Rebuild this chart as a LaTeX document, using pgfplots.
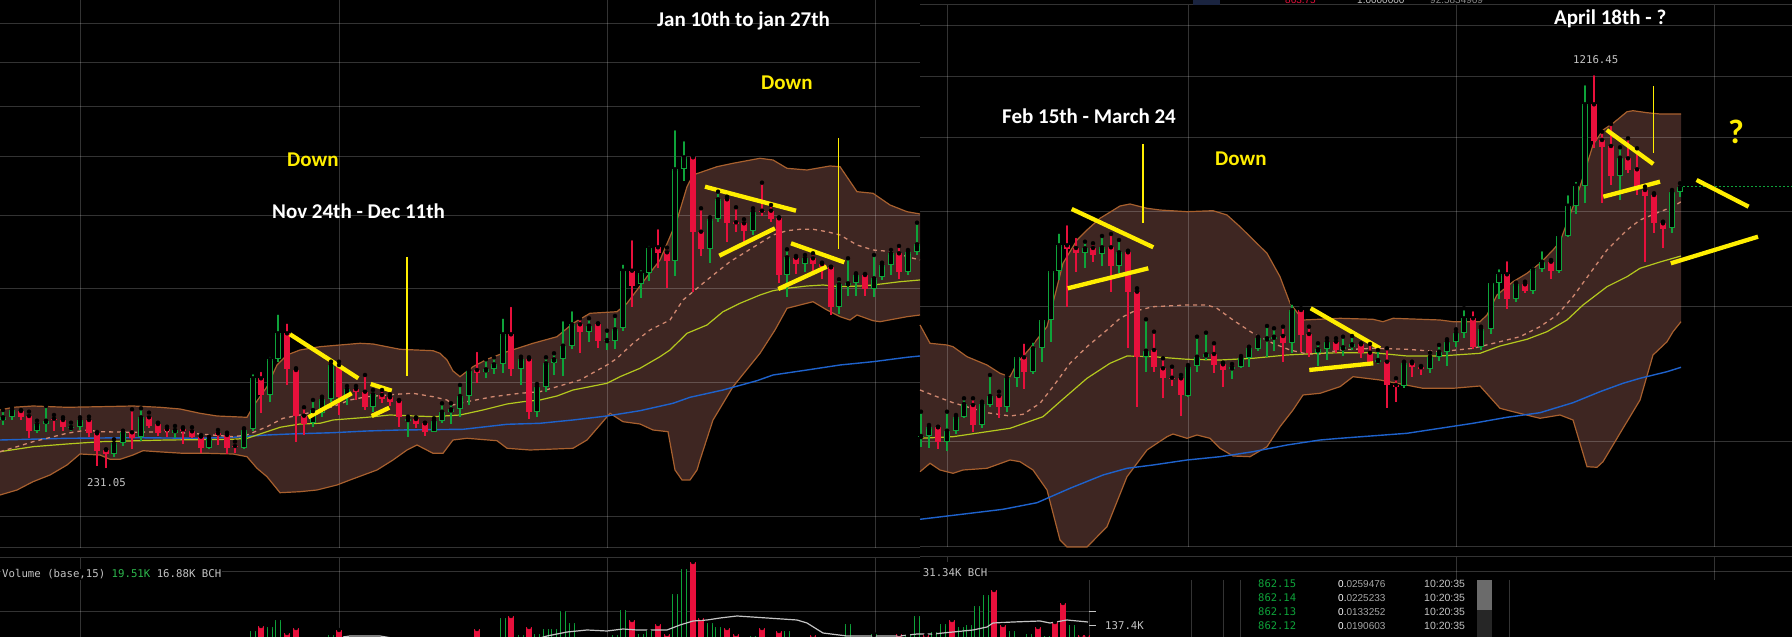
\documentclass[border=0pt]{standalone}
\usepackage{pgfplots}
\pgfplotsset{compat=1.18}
\usepackage{pgfplotstable}
\usepgfplotslibrary{fillbetween}
\usepackage{fontspec}
\setmainfont{Carlito}
\newfontfamily\monof{DejaVu Sans Mono}
\newfontfamily\obf{Liberation Sans}

\definecolor{cred}{HTML}{E8103C}
\definecolor{cgreen}{HTML}{0EA33A}
\definecolor{bbfill}{HTML}{3E2622}
\definecolor{bbedge}{HTML}{A8602E}
\definecolor{midc}{HTML}{D08870}
\definecolor{maY}{HTML}{B4C81E}
\definecolor{maB}{HTML}{1E62CC}
\definecolor{annY}{HTML}{FFEE00}
\definecolor{txtg}{HTML}{C4C4C4}
\definecolor{volg}{HTML}{2DB84D}
\definecolor{navy}{HTML}{1A2440}

% ---------- candles: x, wick high, wick low, body top, body bottom (pixel rows from top)
\pgfplotstableread{
x hi lo bt bb
3 410 425 417.3 420
12 407.3 420 410 417.3
37 420.7 432.7 424.3 430.7
46 406 431.7 420.7 424.3
71 422.7 430.7 427 428
80 417.3 430 420.3 427.3
114 439.3 456.7 443.3 454.3
123 430.7 445.7 432.3 443.3
141 408.3 440.7 417.3 437.3
175 426 438.3 430 433.3
209 436.7 449 439.3 447.7
244 428.3 449 430 447.7
253 372.3 431 378.3 429.3
270 355 401.7 359.3 395
278 312.7 361.7 333.3 359.3
313 400 427.3 410 423.3
322 396.7 417.3 399.3 413.3
331 361.7 401.7 365 399.3
347 386 405 389.3 396
373 390 411.7 394.3 406.7
408 416.7 436.7 419 421
434 418.3 432.3 420.7 431.7
442 403.3 422.7 411.7 420.7
451 403.3 424 409.3 411.7
460 385 416.7 396 409.3
469 367.3 405 370.7 396
486 359.3 378.3 369.3 372.3
494 357.3 374 364.3 369.3
503 316.7 372.7 334.3 364.3
521 356.7 385 359.3 369.3
537 384 417.3 386.7 411.7
546 357.3 391.7 363.3 386.7
554 353.3 375 359.3 363.3
563 319.3 376 345.7 359.3
572 309.3 349.3 324.3 345.7
589 318.3 341.7 325.7 331.7
607 330.7 350 340 340.7
615 316 349.3 329.3 340.7
623 262.7 330.7 270.7 328.3
641 268.3 298.3 273.3 284.3
649 244 280.7 248.3 273.3
675 128.3 276 169.3 260.7
684 139.3 180.7 157.3 169.3
710 217.3 263.3 219.3 249.3
718 191.7 221.7 199.3 219.3
753 208.3 235 211.7 230.7
787 249.3 296.7 257.3 275
805 255 271.7 258.3 264.3
839 279.3 314 284.3 307.3
848 258.3 296 283.3 285
856 273.3 296 275 283.3
874 255 296.7 278.3 289.3
882 262.7 280 265 277.3
891 250 275 253.3 265
908 250 275 252.3 271.7
917 222.7 255 244.3 252.3
921 411.7 446.7 436 437.3
929 425 448.3 427.3 436
947 411.7 450.7 430.7 442.3
956 415 434 417.3 430.7
964 398.3 418.3 404 417.3
982 401.7 428.3 404 425
990 375 406.7 396 405
1007 375 411.7 378.3 406.7
1017 354 386.7 357.3 378.3
1033 340.7 374 348.3 371.7
1042 317.3 361.7 320 348.3
1051 269.3 341.7 271.3 320
1059 231.7 280 245.3 271.3
1085 241.7 268.3 248.3 253.3
1102 236 266 247.3 254.3
1119 240 272.7 252.3 265.7
1146 319.3 371.7 350.7 357.3
1188 365 396.7 367.3 395.7
1197 336.7 371.7 356.7 366
1206 332.7 360 354.3 356.7
1232 364 379.3 367.3 369.3
1241 356 368 358.3 367.3
1249 346.7 366.7 348.3 357.7
1258 336.7 350.7 338.3 349.3
1267 326 356.7 338.3 339.3
1274 328.3 350.7 336.7 338.7
1292 302.7 352.7 310 343.3
1318 343.3 366 349.3 352.7
1327 338.3 360 341.7 349.3
1343 336.7 356 347.3 349.3
1352 336 350 344.3 347.3
1378 350 364 360 361.7
1404 361.7 388.3 363.3 386
1430 352.7 372.7 356.7 369.3
1439 345 360.7 351.7 356.7
1447 339.3 366 341.7 351.7
1456 329.3 346.7 332.7 341.7
1464 308.3 338.3 318.3 332.7
1481 326.7 350 329.3 347.3
1491 280 334 282.7 329.3
1499 267.3 299.3 274.3 282.7
1516 282.7 301.7 284.3 299.3
1533 265 294 269.3 290.7
1542 249.3 271.7 261.7 269.3
1559 232.7 272.7 235.7 270.7
1568 193.3 236.7 205.7 235.7
1576 180 214 185.7 205.7
1585 83.3 203.3 104.3 185.7
1620 147.3 200 157.7 175.7
1672 190 232.7 191.7 228.3
1680 183.3 196.7 187.3 192.3
}\CG

\pgfplotstableread{
x hi lo bt bb
21 410 420 411 417.3
29 411.7 438.3 416 430.7
54 415 430.7 418.7 420
63 417.3 431 420 427.3
89 416.7 437.3 420 433.3
97 432 466 433.3 450.7
106 449.3 468.3 450 454.3
132 409.3 449 432.3 437.7
149 412.7 428.3 417.3 426
158 422.7 436 424 433.3
167 426.7 436.7 429.3 430.7
183 427.3 444 429.3 431.3
192 427.3 437.7 431.3 436.7
201 435 452.7 436.7 447.7
218 430 445 433.3 435
227 432.7 454.3 435 447.7
235 441.7 453.3 446 447
261 370 413.3 378.3 395
287 321.7 385 333.3 369.3
296 368.3 441.7 370 416
304 407.3 435 415.7 424
339 361.7 415 365 396.7
356 386 400 389 391.7
365 375 410 391.7 407.3
382 390 402.7 395 399.3
390 394.3 406 397.3 401.7
399 400 427.3 401 416.7
416 417.3 428.3 419 424
425 422.7 436 423.3 431.7
477 350 382.7 370 372.7
511 305 376 334.3 369.3
529 357.3 419.3 359.3 411.7
580 318.3 352.7 324.3 331.7
598 323.3 348.3 324 340.7
632 238.3 306.7 270.7 285.7
658 227.3 268.3 247.3 252.7
667 247.7 288.3 252.3 260.7
693 155 291.7 157.3 231.7
701 208.3 256 231.7 249.3
727 196.7 241.7 199.3 222.7
736 207.3 231.7 222.3 223.7
744 219.3 241.7 223.3 230.7
762 182.7 216 210.7 211.3
771 205 221.7 210.7 218.7
779 217.3 283.3 218.3 275
796 256 274 257.7 264.3
813 253.3 271.7 258.3 264.3
822 262.7 279.3 264 266.7
831 266.7 315 267.3 307.3
865 274 296 275 289.3
899 246 279.3 253.3 271.7
938 426.7 449.3 427.3 441.7
973 398.3 431.7 405 425
999 391.7 418.3 396 406.7
1024 341.7 389.3 357.3 371.7
1067 223.3 306.7 245.3 248.7
1076 236 271.7 248 253.3
1093 243.3 261.7 248 255
1111 234 291.7 247.3 266
1128 250.7 348.3 252.3 291.7
1137 288.3 406.7 291.7 357.3
1154 331.7 371.7 350 367.3
1163 358.3 398.3 368.3 378.3
1172 366.7 386 377.7 378.7
1181 375 416 378.3 395
1214 343.3 372.7 354 365
1223 362.7 386.7 364.3 370
1283 326.7 361.7 336 343.3
1301 308.3 351.7 310 335
1309 326.7 356.7 334 352.7
1336 338.3 352.7 341.7 350
1361 343.3 358.3 344.3 352.7
1370 344 364 352.7 361.7
1387 348.3 408.3 361.7 385
1396 378.3 401.7 385 386.7
1412 361.7 376.7 363.3 367.3
1421 366 375 367.3 369.3
1473 309.3 349.3 318.3 347.3
1507 259.3 309.3 274.3 299.3
1525 281.7 292.7 284.3 290.7
1551 260 279.3 261.7 270.7
1594 73.3 148.3 104.3 140.7
1602 131.7 203.3 140 146.7
1611 124 185 146 175.7
1628 138.3 172.7 158.3 170
1637 148.3 195 169.3 186.7
1645 186.7 261.7 190 195.7
1654 193.3 233.3 195 223.3
1663 221.7 248.3 223.3 229
}\CR

% ---------- volume bars: x, top row
\pgfplotstableread{
x top
253 631
270 627
278 620
331 635
503 618
521 635
537 634
546 629
554 629
563 611
572 623
615 635
623 610
641 634
649 631
675 594
684 569
710 623
718 627
753 636
787 631
848 624
874 634
908 635
917 616
934 632
943 624
961 627
969 625
977 606
986 595
1012 631
1029 634
1047 636
1072 625
}\VG
\pgfplotstableread{
x top
261 626
287 633
296 628
339 630
477 629
511 616
529 627
632 620
658 624
667 634
693 562
701 618
727 628
736 634
762 628
779 631
813 635
899 634
926 635
952 620
994 590
1003 625
1038 627
1055 622
1063 603
1081 635
1087 635
}\VR

% ---------- Bollinger bands and averages
\pgfplotstableread{
x y
0 410
13 407.3
33 406
67 407.3
100 406.7
133 406
160 407.3
180 409
200 413.3
217 416
247 417.3
253 406.7
267 386.7
277 365
287 355
300 350
320 346.7
340 345
360 343.3
373 344
400 349.3
433 350.7
440 353.3
447 360
453 371
460 376.7
473 366.7
487 359.3
507 351.7
533 343.3
557 336.7
573 323.3
590 313.3
617 311.7
627 303.3
647 276.7
660 260
670 236.7
677 220
687 186.7
693 175
717 166.7
733 163.3
760 158.3
773 160
787 168.3
807 170
830 166
840 166.7
857 191.7
873 193.3
890 205
907 211.7
920 214
}\LU
\pgfplotstableread{
x y
0 495
17 490
33 481.7
50 475
67 465
80 454
100 455
110 459.3
120 459.3
133 455
143 450.7
157 451.7
183 453.3
207 453.3
233 454
247 456.7
257 468.3
267 476.7
280 492.7
300 491.7
317 490
337 485
350 480
377 470
393 460
407 450
417 445
433 453.3
443 453.3
453 440
467 438.3
497 440.7
507 448.3
530 450
573 448.3
587 440
600 425
610 413.3
623 421.7
640 424
653 430
668 431.7
675 470
682 480
690 480
697 470
700 460
713 420
733 386.7
760 353.3
775 330
787 308.3
800 305
813 301.7
827 310
840 316.7
850 320
857 315
873 320.7
880 321.7
907 316.7
920 315
}\LL
\pgfplotstableread{
x y
0 451.7
17 446.7
33 441.7
67 433.3
87 430
100 431.7
133 432.3
167 431.7
200 434
233 436.7
247 435
267 426.7
283 418.3
300 415
333 406.7
350 400
367 396.7
400 394
413 393.3
433 396.7
447 400
453 405
467 401.7
493 396.7
520 393.3
540 391.7
557 386.7
580 380
607 365
617 358.3
633 343.3
650 330
670 320
683 300
693 291.7
707 280
730 261.7
757 245
773 235
787 230.7
800 229.3
813 229.3
827 231.7
840 235
857 245
873 250
893 251.7
907 256.7
920 260
}\LM
\pgfplotstableread{
x y
0 451.7
33 446.7
67 444
100 441.7
167 440
233 439.3
247 438.3
267 431.7
280 427.3
300 424
320 423.3
333 420
367 417.3
390 415
433 416.7
460 415
483 410
507 404
523 401.7
540 400
557 396
573 390
607 383.3
620 376.7
640 368.3
660 356.7
670 350
687 333.3
707 325
723 311.7
740 303.3
760 295
773 290.7
787 288.3
807 286
823 285
840 286.7
860 286
873 285
900 281.7
920 280
}\LY
\pgfplotstableread{
x y
0 440
67 438.3
133 437.7
200 438.3
233 437.3
267 435
290 434
333 432.7
367 431
400 430
463 429.3
507 424.3
540 423.3
573 420
607 416
640 410.7
673 403.3
690 397.3
723 390
757 380.7
773 375
807 370
840 365
873 361.7
907 357.3
920 356
}\LB
\pgfplotstableread{
x y
920 325
930 343.3
947 345
953 346.7
967 356.7
987 365
1000 373.3
1010 376.7
1017 363.3
1030 348.3
1047 326.7
1063 263.3
1077 240
1087 230
1100 218.3
1120 206
1130 204
1147 208.3
1160 210
1187 211.7
1213 210.7
1227 215
1240 226.7
1267 253.3
1280 276.7
1290 303.3
1303 320
1340 318.3
1373 319.3
1383 321.7
1393 318.3
1440 320
1453 321.7
1480 321.7
1487 315
1497 295
1513 281.7
1527 273.3
1540 263.3
1553 250
1560 241.7
1573 206.7
1580 186.7
1593 145
1603 130
1613 123.3
1627 111.7
1633 110.7
1647 112.7
1660 114
1681 114
}\RU
\pgfplotstableread{
x y
920 471.7
930 463.3
940 470
953 473.3
963 470
987 468.3
1010 460
1020 461.7
1033 470
1047 490
1060 540
1067 547
1087 547
1107 526.7
1127 476.7
1147 450
1167 436.7
1173 434
1187 438.3
1197 435
1210 438.3
1220 448.3
1233 456
1250 456.7
1267 446.7
1280 426.7
1293 410
1303 395
1320 393.3
1340 386.7
1353 376.7
1380 380
1423 388.3
1453 388.3
1480 386
1500 408.3
1513 411.7
1540 418.3
1560 415
1573 420
1587 466.7
1597 467.3
1603 461.7
1620 433.3
1640 400
1653 355
1667 341.7
1673 331.7
1681 321.7
}\RL
\pgfplotstableread{
x y
920 390
937 396.7
953 402.7
987 412.7
1010 416
1023 414.3
1040 403.3
1053 386.7
1070 363.3
1087 346.7
1107 330
1120 318.3
1133 311.7
1153 306.7
1187 305
1207 305
1217 308.3
1233 320
1253 333.3
1273 343.3
1290 350
1307 354
1320 354
1340 350
1373 348.3
1407 349.3
1440 351.7
1473 348.3
1500 341.7
1520 336.7
1540 326.7
1557 315
1573 296.7
1590 273.3
1607 250
1627 230
1640 220
1660 211.7
1673 206.7
1681 201.7
}\RM
\pgfplotstableread{
x y
920 438.3
953 436.7
987 431.7
1010 428.3
1043 416.7
1060 401.7
1087 378.3
1110 363.3
1127 356
1153 356.7
1187 359.3
1220 360
1253 358.3
1287 355
1320 353.3
1340 352.7
1373 352.7
1407 356
1440 356
1480 353.3
1500 346
1527 339.3
1547 331.7
1567 320
1583 305
1607 286.7
1627 276.7
1640 268.3
1660 262
1673 258.3
1681 256
}\RY
\pgfplotstableread{
x y
920 519.3
970 513.3
1003 509.3
1037 502.7
1070 488.3
1103 475
1127 468.3
1153 465
1187 460
1220 456.7
1253 451.7
1287 445
1320 440
1340 438.3
1407 433.3
1440 428.3
1473 423.3
1507 417.3
1540 412.7
1573 402.7
1600 391.7
1623 383.3
1640 378.3
1667 371.7
1681 367.3
}\RB

\pgfplotsset{
  ebar/.style 2 args={only marks, mark=none, error bars/.cd, y dir=plus, y explicit,
     error mark=none, error bar style={line width=#2, draw=#1, solid}},
}
\tikzset{gridc/.style={draw=white, draw opacity=0.2, line width=1pt}}

\begin{document}
\begin{tikzpicture}
\begin{axis}[
  width=1792pt, height=637pt, scale only axis,
  xmin=0, xmax=1792, ymin=0, ymax=637, y dir=reverse,
  axis line style={draw=none}, ticks=none,
  axis background/.style={fill=black},
]
% band fills
\addplot[draw=none, name path=lu] table {\LU};
\addplot[draw=none, name path=ll] table {\LL};
\addplot[fill=bbfill, draw=none] fill between[of=lu and ll];
\addplot[draw=none, name path=ru] table {\RU};
\addplot[draw=none, name path=rl] table {\RL};
\addplot[fill=bbfill, draw=none] fill between[of=ru and rl];

% grid, left screenshot
\pgfplotsinvokeforeach{24,63,107,157,216,289,383,517,572,612}{
  \draw[gridc] (axis cs:0,#1) -- (axis cs:920,#1);}
\pgfplotsinvokeforeach{80,339,607,875}{
  \draw[gridc] (axis cs:#1,0) -- (axis cs:#1,548);
  \draw[gridc] (axis cs:#1,558) -- (axis cs:#1,637);}
\draw[gridc] (axis cs:0,548) -- (axis cs:920,548);
\draw[gridc] (axis cs:0,558) -- (axis cs:920,558);
% grid, right screenshot
\pgfplotsinvokeforeach{26,77,138,212,307,442}{
  \draw[gridc] (axis cs:920,#1) -- (axis cs:1792,#1);}
\pgfplotsinvokeforeach{947,1188,1456,1714}{
  \draw[gridc] (axis cs:#1,5) -- (axis cs:#1,547);}
\draw[gridc] (axis cs:920,5) -- (axis cs:1792,5);
\draw[gridc] (axis cs:920,547) -- (axis cs:1792,547);
\draw[gridc] (axis cs:920,557) -- (axis cs:1792,557);
\draw[gridc] (axis cs:985,572) -- (axis cs:1792,572);
\draw[gridc] (axis cs:920,612) -- (axis cs:1089,612);
\draw[gridc] (axis cs:1456,557) -- (axis cs:1456,580);
\draw[gridc] (axis cs:1714,557) -- (axis cs:1714,580);
\draw[gridc] (axis cs:947,557) -- (axis cs:947,562);
\draw[gridc] (axis cs:1089,580) -- (axis cs:1089,637);
\pgfplotsinvokeforeach{1191,1223,1240,1509}{
  \draw[gridc] (axis cs:#1,580) -- (axis cs:#1,637);}

% band edges and averages
\addplot[bbedge, line width=1.2pt] table {\LU};
\addplot[bbedge, line width=1.2pt] table {\LL};
\addplot[bbedge, line width=1.2pt] table {\RU};
\addplot[bbedge, line width=1.2pt] table {\RL};
\addplot[maB, line width=1.4pt] table {\LB};
\addplot[maB, line width=1.4pt] table {\RB};
\addplot[maY, line width=1.2pt] table {\LY};
\addplot[maY, line width=1.2pt] table {\RY};
\addplot[midc, line width=1.3pt, dash pattern=on 4pt off 4pt] table {\LM};
\addplot[midc, line width=1.3pt, dash pattern=on 4pt off 4pt] table {\RM};

% candles
\addplot[ebar={cgreen}{1.2pt}] table[x=x, y=hi, y error plus expr=\thisrow{lo}-\thisrow{hi}] {\CG};
\addplot[ebar={cred}{1.2pt}] table[x=x, y=hi, y error plus expr=\thisrow{lo}-\thisrow{hi}] {\CR};
\addplot[ebar={cgreen}{6.6pt}] table[x=x, y=bt, y error plus expr={max(\thisrow{bb}-\thisrow{bt},1.4)}] {\CG};
\addplot[ebar={black}{4.4pt}] table[x=x, y expr=\thisrow{bt}+1.1, y error plus expr={max(\thisrow{bb}-\thisrow{bt}-2.2,0)}] {\CG};
\addplot[ebar={cred}{6.6pt}] table[x=x, y=bt, y error plus expr={max(\thisrow{bb}-\thisrow{bt},1.4)}] {\CR};

% volume
\addplot[ebar={cgreen}{6.4pt}] table[x=x, y=top, y error plus expr=640-\thisrow{top}] {\VG};
\addplot[ebar={black}{4.2pt}] table[x=x, y expr=\thisrow{top}+1.1, y error plus expr=640-\thisrow{top}] {\VG};
\addplot[ebar={cred}{6.4pt}] table[x=x, y=top, y error plus expr=640-\thisrow{top}] {\VR};
\addplot[txtg, line width=1.2pt] coordinates {(343,637) (350,636) (380,636) (392,638)};
\addplot[txtg, line width=1.2pt] coordinates {(540,638) (547,636) (567,632) (587,630) (607,631) (623,629) (637,630) (667,630) (680,625) (693,621) (707,620) (720,618) (737,616) (797,620) (807,623) (823,633) (847,636) (900,636) (917,634) (920,634)};
\addplot[txtg, line width=1.2pt] coordinates {(920,634) (933,634) (953,632) (973,630) (987,627) (993,623) (1013,622) (1040,621) (1050,623) (1067,620) (1088,622)};

% last price line
\addplot[cgreen, line width=1pt, dash pattern=on 2pt off 2pt] coordinates {(1683,187) (1792,187)};

% yellow annotations
\addplot[annY, line width=4.3pt] coordinates {(290,334.3) (358.3,378.3)};
\addplot[annY, line width=4.3pt] coordinates {(308.3,417.3) (351.7,393.3)};
\addplot[annY, line width=4.3pt] coordinates {(370.7,384) (391.7,390.7)};
\addplot[annY, line width=4.3pt] coordinates {(371.7,416) (389.3,407.7)};
\addplot[annY, line width=1.4pt] coordinates {(407,257) (407,376)};
\addplot[annY, line width=4.3pt] coordinates {(705,186.7) (796,210.7)};
\addplot[annY, line width=4.3pt] coordinates {(719.3,255.7) (775,228.3)};
\addplot[annY, line width=4.3pt] coordinates {(791,243.3) (844.3,262.3)};
\addplot[annY, line width=4.3pt] coordinates {(778.3,289) (826.7,266.7)};
\addplot[annY, line width=1.4pt] coordinates {(838.7,138) (838.7,249)};
\addplot[annY, line width=4.3pt] coordinates {(1071.7,209) (1153.3,247.3)};
\addplot[annY, line width=4.3pt] coordinates {(1067.7,288.3) (1148.3,268.3)};
\addplot[annY, line width=1.4pt] coordinates {(1143,144) (1143,223)};
\addplot[annY, line width=4.3pt] coordinates {(1310.7,308.3) (1380,348.3)};
\addplot[annY, line width=4.3pt] coordinates {(1309.3,370) (1373.3,363.3)};
\addplot[annY, line width=4.3pt] coordinates {(1606.7,130) (1653.3,164)};
\addplot[annY, line width=4.3pt] coordinates {(1603.3,196.7) (1660,181.7)};
\addplot[annY, line width=1.4pt] coordinates {(1653.3,86) (1653.3,153.3)};
\addplot[annY, line width=4.3pt] coordinates {(1696.6,180) (1748.6,206.7)};
\addplot[annY, line width=4.3pt] coordinates {(1670.8,263.3) (1758,236.7)};

% titles
\node[anchor=base west, inner sep=0pt, font=\fontsize{21}{21}\selectfont\bfseries, text=annY] at (axis cs:287,167) {Down};
\node[anchor=base west, inner sep=0pt, font=\fontsize{21}{21}\selectfont\bfseries, text=white] at (axis cs:272,219) {Nov 24th - Dec 11th};
\node[anchor=base west, inner sep=0pt, font=\fontsize{21}{21}\selectfont\bfseries, text=white] at (axis cs:657,26.7) {Jan 10th to jan 27th};
\node[anchor=base west, inner sep=0pt, font=\fontsize{21}{21}\selectfont\bfseries, text=annY] at (axis cs:761,90) {Down};
\node[anchor=base west, inner sep=0pt, font=\fontsize{21}{21}\selectfont\bfseries, text=white] at (axis cs:1002,123.3) {Feb 15th - March 24};
\node[anchor=base west, inner sep=0pt, font=\fontsize{21}{21}\selectfont\bfseries, text=annY] at (axis cs:1215,166) {Down};
\node[anchor=base west, inner sep=0pt, font=\fontsize{21}{21}\selectfont\bfseries, text=white] at (axis cs:1554,25) {April 18th - ?};
\node[anchor=base west, inner sep=0pt, text=annY, font=\fontsize{34}{34}\selectfont\bfseries] at (axis cs:1728,143.3) {?};

% small labels
\node[anchor=base west, inner sep=0pt, text=txtg, font=\monof\fontsize{10.7}{11}\selectfont] at (axis cs:87,487) {231.05};
\node[anchor=base west, inner sep=0pt, text=txtg, font=\monof\fontsize{10.7}{11}\selectfont] at (axis cs:1573,64) {1216.45};
\node[anchor=base west, inner sep=1pt, fill=black, text=txtg, font=\monof\fontsize{10.7}{11}\selectfont] at (axis cs:1,578) {Volume (base,15) \textcolor{volg}{19.51K} 16.88K BCH};
\node[anchor=base west, inner sep=1pt, fill=black, text=txtg, font=\monof\fontsize{10.7}{11}\selectfont] at (axis cs:921.7,577) {31.34K BCH};
\node[anchor=base west, inner sep=0pt, text=txtg, font=\monof\fontsize{10.7}{11}\selectfont] at (axis cs:1105,630) {137.4K};
\draw[txtg, line width=1pt] (axis cs:1089,612) -- (axis cs:1096,612);
\draw[txtg, line width=1pt] (axis cs:1089,626) -- (axis cs:1096,626);

% order book
\fill[black!85!white] (axis cs:1477,580) rectangle (axis cs:1492,637);
\fill[black!58!white] (axis cs:1477,580) rectangle (axis cs:1492,610);
\pgfplotsinvokeforeach{588,602,616,630}{
  \node[anchor=base west, inner sep=0pt, text=txtg, font=\obf\fontsize{10.5}{11}\selectfont] at (axis cs:1424,#1) {10:20:35};}
\node[anchor=base west, inner sep=0pt, text=cgreen, font=\monof\fontsize{10.5}{11}\selectfont] at (axis cs:1258,588) {862.15};
\node[anchor=base west, inner sep=0pt, text=cgreen, font=\monof\fontsize{10.5}{11}\selectfont] at (axis cs:1258,602) {862.14};
\node[anchor=base west, inner sep=0pt, text=cgreen, font=\monof\fontsize{10.5}{11}\selectfont] at (axis cs:1258,616) {862.13};
\node[anchor=base west, inner sep=0pt, text=cgreen, font=\monof\fontsize{10.5}{11}\selectfont] at (axis cs:1258,630) {862.12};
\node[anchor=base west, inner sep=0pt, text=black!35!white, font=\obf\fontsize{10}{11}\selectfont] at (axis cs:1338,588) {\textcolor{white}{0.}0259476};
\node[anchor=base west, inner sep=0pt, text=black!35!white, font=\obf\fontsize{10}{11}\selectfont] at (axis cs:1338,602) {\textcolor{white}{0.}0225233};
\node[anchor=base west, inner sep=0pt, text=black!35!white, font=\obf\fontsize{10}{11}\selectfont] at (axis cs:1338,616) {\textcolor{white}{0.}0133252};
\node[anchor=base west, inner sep=0pt, text=black!35!white, font=\obf\fontsize{10}{11}\selectfont] at (axis cs:1338,630) {\textcolor{white}{0.}0190603};

% top strip of the right screenshot
\fill[navy] (axis cs:1193,0) rectangle (axis cs:1220,5);
\node[anchor=base west, inner sep=0pt, text=cred, font=\obf\fontsize{10}{11}\selectfont] at (axis cs:1285,3.5) {863.75};
\node[anchor=base west, inner sep=0pt, text=txtg, font=\obf\fontsize{10}{11}\selectfont] at (axis cs:1357,3.5) {1.0000000};
\node[anchor=base west, inner sep=0pt, text=black!45!white, font=\obf\fontsize{10}{11}\selectfont] at (axis cs:1430,3.5) {92.5834969};
\end{axis}
\pgfresetboundingbox
\path[use as bounding box] (current axis.south west) rectangle (current axis.north east);
\end{tikzpicture}
\end{document}
